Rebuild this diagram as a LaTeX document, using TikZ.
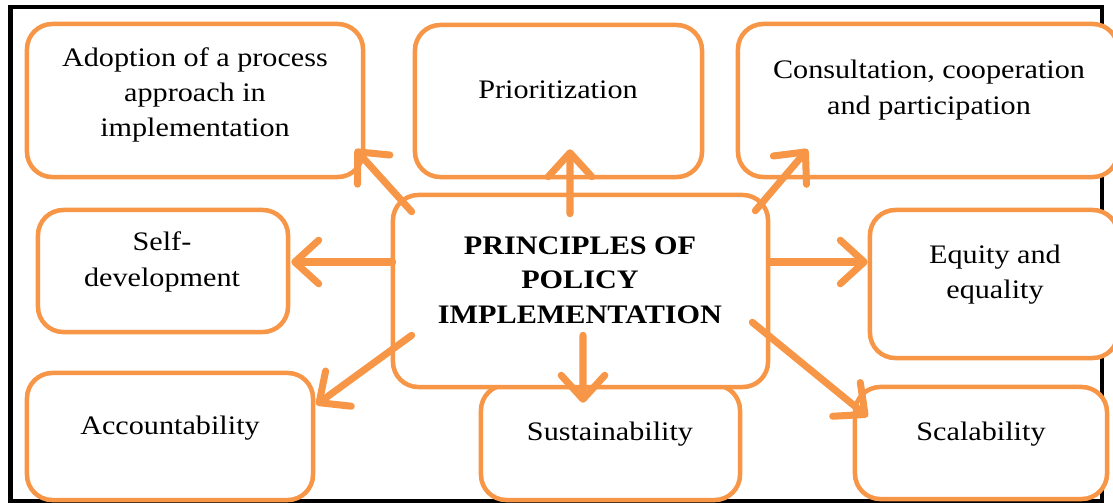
\documentclass[tikz,border=0pt]{standalone}
\usepackage{fontspec}
\setmainfont{Liberation Serif}[FakeStretch=1.13]
\usetikzlibrary{arrows.meta,calc}
\definecolor{porange}{HTML}{F79646}
\tikzset{
  pbox/.style={draw=porange, line width=3.2pt, rounded corners=18pt, fill=white},
  ptext/.style={align=center, inner sep=0pt, font=\fontsize{19}{25}\selectfont},
  parrow/.style={draw=porange, line width=5pt, line cap=round,
    -{Straight Barb[length=17pt, width=31pt, line cap=round, line join=round]}}
}
\begin{document}
\begin{tikzpicture}[x=0.025cm, y=-0.025cm]
\useasboundingbox (0,0) rectangle (1113,502);
\clip (0,0) rectangle (1113,502);
% frame
\draw[line width=2.9pt] (10.5,7) rectangle (1102,501.5);
% boxes
\node[pbox, minimum width=8.4cm, minimum height=3.825cm] (adopt) at (195,100.5) {};
\node[pbox, minimum width=7.175cm, minimum height=3.8cm] (prio) at (558.5,101) {};
\node[pbox, minimum width=9.5cm, minimum height=3.825cm] (consult) at (928,100.5) {};
\node[pbox, minimum width=6.25cm, minimum height=3.05cm] (self) at (163,271) {};
\node[pbox, minimum width=6.2cm, minimum height=3.7cm] (equity) at (994,284) {};
\node[pbox, minimum width=7.15cm, minimum height=3.175cm] (account) at (170,436.5) {};
\node[pbox, minimum width=6.475cm, minimum height=2.875cm] (sustain) at (610.5,442.5) {};
\node[pbox, minimum width=6.3cm, minimum height=2.8cm] (scal) at (981,443) {};
\node[pbox, minimum width=9.375cm, minimum height=4.8cm] (cen) at (580.5,291) {};
% texts
\node[ptext] (adopt-t) at (195,95) {Adoption of a process\\approach in\\implementation};
\node[ptext] (prio-t) at (558,90) {Prioritization};
\node[ptext] (consult-t) at (929,90) {Consultation, cooperation\\and participation};
\node[ptext] (self-t) at (162,262) {Self-\\development};
\node[ptext] (equity-t) at (995,275) {Equity and\\equality};
\node[ptext] (account-t) at (170,428) {Accountability};
\node[ptext] (sustain-t) at (610,434) {Sustainability};
\node[ptext] (scal-t) at (981,434) {Scalability};
\node[ptext, font=\fontsize{19}{24.5}\selectfont\bfseries] (cen-t) at (580,280) {PRINCIPLES OF\\POLICY\\IMPLEMENTATION};
% arrows
\draw[parrow] ($(cen.north west)+(21,19)$) -- ($(adopt.south east)+(-10,-30)$);
\draw[parrow] ($(cen.north)+(-10.5,21)$) -- ($(prio.south)+(11.5,-30)$);
\draw[parrow] ($(cen.north east)+(-15,18)$) -- ($(consult.south west)+(72,-30)$);
\draw[parrow] ($(cen.west)+(2,-29)$) -- ($(self.east)+(1,-9)$);
\draw[parrow] ($(cen.east)+(-1,-29)$) -- ($(equity.west)+(0,-22)$);
\draw[parrow] ($(cen.south west)+(21,-54)$) -- ($(account.north east)+(1,34)$);
\draw[parrow] ($(cen.south)+(2.5,-54)$) -- ($(sustain.north)+(-27.5,20)$);
\draw[parrow] ($(cen.south east)+(-18,-67)$) -- ($(scal.north west)+(15,32)$);
\end{tikzpicture}
\end{document}
